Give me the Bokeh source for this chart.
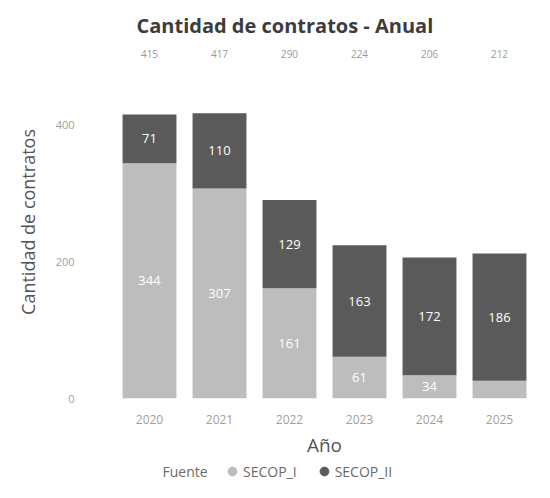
from bokeh.plotting import figure
from bokeh.layouts import column
from bokeh.models import ColumnDataSource, FactorRange, Range1d, Legend, LegendItem, FixedTicker, Label
from bokeh.core.properties import value
from bokeh.embed import file_html
from bokeh.resources import INLINE

years = ["2020", "2021", "2022", "2023", "2024", "2025"]
secop_i = [344, 307, 161, 61, 34, 26]
secop_ii = [71, 110, 129, 163, 172, 186]
totals = [415, 417, 290, 224, 206, 212]
y_ticks = [0, 200, 400]
series = ["SECOP_I", "SECOP_II"]
colors = ["#bdbdbd", "#5a5a5a"]

FONT = "Open Sans"

src = ColumnDataSource(dict(year=years, SECOP_I=secop_i, SECOP_II=secop_ii))

p = figure(
    x_range=FactorRange(factors=years),
    y_range=Range1d(0, 516),
    width=534, height=460,
    output_backend="svg", toolbar_location=None,
    min_border_left=114, min_border_right=0,
    min_border_top=45, min_border_bottom=56,
)

p.vbar_stack(series, x="year", width=0.77, color=colors, source=src, line_color=None)

# segment labels (hide those too small to fit)
lx, ly, lt = [], [], []
for yr, a, b in zip(years, secop_i, secop_ii):
    if a >= 30:
        lx.append(yr); ly.append(a / 2); lt.append(str(a))
    if b >= 30:
        lx.append(yr); ly.append(a + b / 2); lt.append(str(b))
p.text(x=lx, y=ly, text=lt, text_color="white", text_align="center",
       text_baseline="middle", text_font=value(FONT), text_font_size="13px")

# totals row
p.text(x=years, y=[504] * len(years), text=[str(t) for t in totals],
       text_color="#9a9a9a", text_align="center", text_baseline="middle",
       text_font=value(FONT), text_font_size="10px")

# title
p.title.text = "Cantidad de contratos - Anual"
p.title.align = "left"
p.title.offset = 22
p.title.standoff = 14
p.title.text_font = FONT
p.title.text_font_size = "20px"
p.title.text_font_style = "bold"
p.title.text_color = "#3c3c3c"

# axes
p.xgrid.grid_line_color = None
p.ygrid.grid_line_color = None
p.outline_line_color = None
for ax in (p.xaxis, p.yaxis):
    ax.axis_line_color = None
    ax.major_tick_line_color = None
    ax.minor_tick_line_color = None
    ax.major_label_text_color = "#a0a0a0"
    ax.major_label_text_font = FONT
    ax.major_label_text_font_size = "11px"
    ax.axis_label_text_font = FONT
    ax.axis_label_text_font_style = "normal"
    ax.axis_label_text_color = "#555555"

p.xaxis.major_label_text_font_size = "12px"
p.yaxis.ticker = FixedTicker(ticks=y_ticks)
p.yaxis.axis_label = "Cantidad de contratos"
p.yaxis.axis_label_text_font_size = "18px"
p.yaxis.major_label_standoff = 34
p.yaxis.axis_label_standoff = 13
p.xaxis.axis_label = "Año"
p.xaxis.axis_label_text_font_size = "19px"
p.xaxis.major_label_standoff = 10
p.xaxis.axis_label_standoff = 5

# legend strip (separate small figure below the chart; its frame aligns with the chart's)
q = figure(width=534, height=22, output_backend="svg", toolbar_location=None,
           x_range=Range1d(0, 1), y_range=Range1d(0, 1),
           x_axis_location=None, y_axis_location=None,
           min_border=0, min_border_left=0, min_border_right=0,
           min_border_top=0, min_border_bottom=0)
q.outline_line_color = None
q.xgrid.grid_line_color = None
q.ygrid.grid_line_color = None
proxy = ColumnDataSource(dict(x=[float("nan")], y=[float("nan")]))
r1 = q.scatter(x="x", y="y", source=proxy, marker="circle", color=colors[0], size=10)
r2 = q.scatter(x="x", y="y", source=proxy, marker="circle", color=colors[1], size=10)
legend = Legend(items=[LegendItem(label=series[0], renderers=[r1], index=0),
                       LegendItem(label=series[1], renderers=[r2], index=0)],
                orientation="horizontal", location=(107, 0),
                padding=0, margin=0, spacing=16, label_standoff=0,
                glyph_width=22, glyph_height=22, label_height=22,
                label_text_font=FONT, label_text_font_size="14px",
                label_text_color="#6a6a6a",
                border_line_color=None, background_fill_alpha=0)
q.add_layout(legend)
q.add_layout(Label(x=48, y=11, x_units="screen", y_units="screen", text="Fuente",
                   text_font=FONT, text_font_size="14px", text_color="#6a6a6a",
                   text_baseline="middle"))

open("out.html", "w").write(file_html(column(p, q), INLINE))
